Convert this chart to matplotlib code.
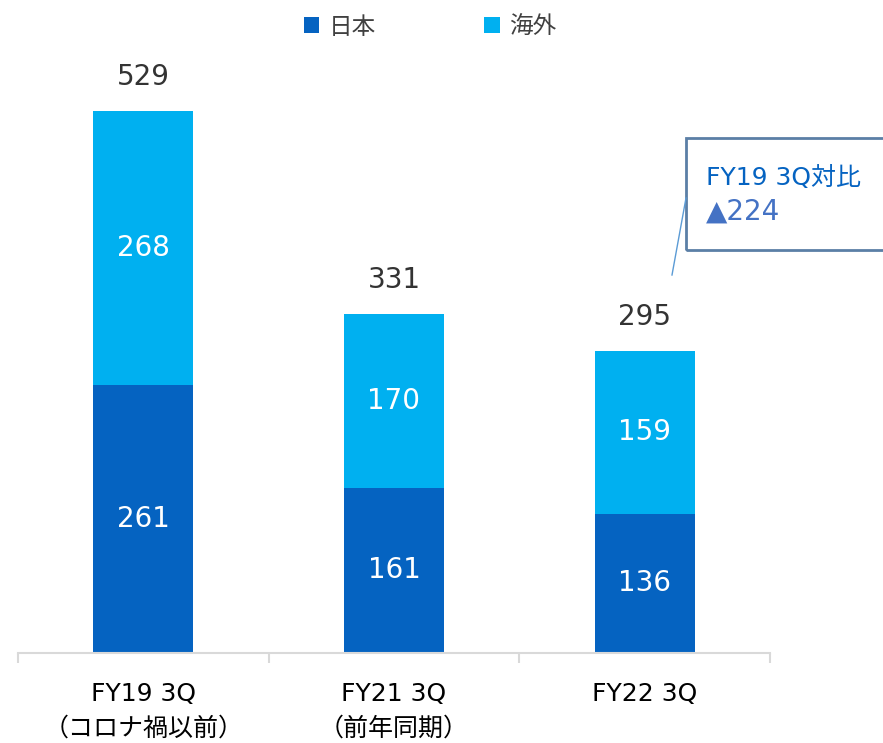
import matplotlib
matplotlib.use("Agg")
import matplotlib.pyplot as plt
from matplotlib.patches import Rectangle
from matplotlib.lines import Line2D

plt.rcParams['font.family'] = ['DejaVu Sans', 'Noto Sans CJK JP']

categories = ["FY19 3Q\n（コロナ禍以前）", "FY21 3Q\n（前年同期）", "FY22 3Q"]
japan = [261, 161, 136]
overseas = [268, 170, 159]
series_names = ["日本", "海外"]
callout_lines = ["FY19 3Q対比", "▲224"]

c_jp = "#0563C1"
c_os = "#00B0F0"

fig = plt.figure(figsize=(8.83, 7.43), dpi=100)
ax = fig.add_axes([18/883, 90/743, 752/883, 615/743])

x = list(range(len(categories)))
b1 = ax.bar(x, japan, width=0.4, color=c_jp, label=series_names[0])
b2 = ax.bar(x, overseas, width=0.4, bottom=japan, color=c_os, label=series_names[1])

for i in x:
    ax.text(i, japan[i] / 2, str(japan[i]), ha="center", va="center",
            color="white", fontsize=20)
    ax.text(i, japan[i] + overseas[i] / 2, str(overseas[i]), ha="center",
            va="center", color="white", fontsize=20)
    tot = japan[i] + overseas[i]
    ax.annotate(str(tot), (i, tot), xytext=(0, 24), textcoords="offset points",
                ha="center", va="center", color="#333333", fontsize=20)

ax.set_xlim(-0.5, 2.5)
ax.set_ylim(0, 600)
ax.set_yticks([])
for s in ["left", "right", "top"]:
    ax.spines[s].set_visible(False)
ax.spines["bottom"].set_color("#d9d9d9")
ax.spines["bottom"].set_linewidth(1.5)

ax.set_xticks(x)
ax.set_xticklabels(categories, fontsize=18, color="black", linespacing=1.55,
                   va="top")
ax.tick_params(axis="x", which="major", length=0, pad=21)
ax.set_xticks([-0.5, 0.5, 1.5, 2.5], minor=True)
ax.tick_params(axis="x", which="minor", length=7, width=1.5, color="#d9d9d9",
               direction="out")

leg = fig.legend(handles=[b1, b2], labels=series_names, loc="center",
                 bbox_to_anchor=(430/883, 1 - 27/743), ncol=2, frameon=False,
                 prop={"family": ["Noto Sans CJK JP"], "size": 17},
                 handlelength=0.65, handleheight=0.65,
                 columnspacing=4.6, handletextpad=0.4, labelcolor="#404040")

# callout
rect = Rectangle((686/883, 1 - 250/743), 220/883, 112/743,
                 transform=fig.transFigure, fill=False,
                 edgecolor="#5B7FA6", linewidth=2, clip_on=False)
fig.patches.append(rect)
fig.lines.append(Line2D([686/883, 672/883], [1 - 198/743, 1 - 275/743],
                        transform=fig.transFigure, color="#5B9BD5",
                        linewidth=1))
fig.text(706/883, 1 - 178/743, callout_lines[0], color="#0563C1",
         fontsize=18, va="center", ha="left")
fig.text(706/883, 1 - 212/743, callout_lines[1], color="#4472C4",
         fontsize=20, va="center", ha="left")

fig.savefig("out.png", dpi=100)
